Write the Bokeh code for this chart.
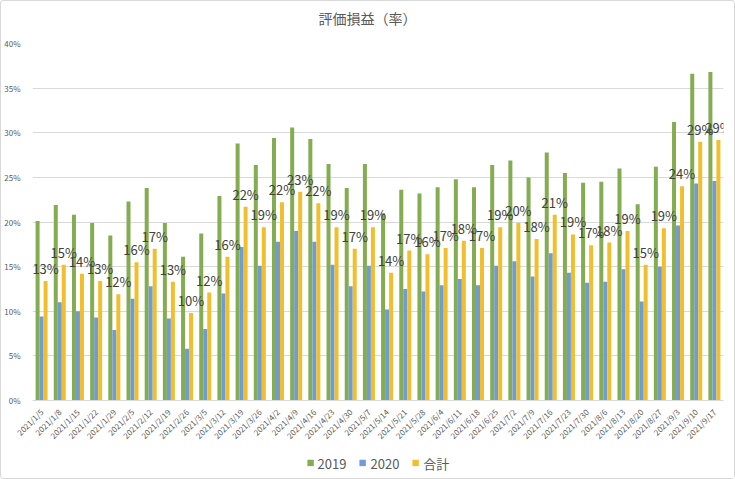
from bokeh.plotting import figure
from bokeh.layouts import column
from bokeh.models import ColumnDataSource, FactorRange, PrintfTickFormatter, Legend, LegendItem, SingleIntervalTicker, Div
from bokeh.transform import dodge
from bokeh.core.properties import value
from bokeh.embed import file_html
from bokeh.resources import INLINE
import math

dates = ["2021/1/5", "2021/1/8", "2021/1/15", "2021/1/22", "2021/1/29", "2021/2/5", "2021/2/12",
         "2021/2/19", "2021/2/26", "2021/3/5", "2021/3/12", "2021/3/19", "2021/3/26", "2021/4/2",
         "2021/4/9", "2021/4/16", "2021/4/23", "2021/4/30", "2021/5/7", "2021/5/14", "2021/5/21",
         "2021/5/28", "2021/6/4", "2021/6/11", "2021/6/18", "2021/6/25", "2021/7/2", "2021/7/9",
         "2021/7/16", "2021/7/23", "2021/7/30", "2021/8/6", "2021/8/13", "2021/8/20", "2021/8/27",
         "2021/9/3", "2021/9/10", "2021/9/17"]

# values in percent
s2019 = [20.1, 21.9, 20.8, 19.9, 18.5, 22.3, 23.8, 19.9, 16.1, 18.7, 22.9, 28.8, 26.4, 29.4,
         30.6, 29.3, 26.5, 23.8, 26.5, 21.0, 23.6, 23.2, 23.9, 24.8, 23.9, 26.4, 26.9, 25.0,
         27.8, 25.5, 24.4, 24.5, 26.0, 22.0, 26.2, 31.2, 36.6, 36.8]
s2020 = [9.4, 11.0, 10.0, 9.3, 7.9, 11.4, 12.8, 9.2, 5.8, 8.0, 12.0, 17.2, 15.1, 17.8,
         19.0, 17.8, 15.2, 12.8, 15.1, 10.2, 12.5, 12.2, 12.9, 13.6, 12.9, 15.1, 15.6, 13.9,
         16.5, 14.3, 13.2, 13.3, 14.7, 11.1, 15.0, 19.6, 24.3, 24.6]
total = [13.4, 15.2, 14.2, 13.4, 11.9, 15.5, 17.0, 13.3, 9.8, 12.1, 16.1, 21.7, 19.4, 22.2,
         23.4, 22.1, 19.4, 17.0, 19.4, 14.3, 16.8, 16.4, 17.1, 17.9, 17.1, 19.4, 19.9, 18.1,
         20.8, 18.6, 17.4, 17.7, 19.0, 15.2, 19.3, 24.0, 29.0, 29.2]
series_names = ["2019", "2020", "合計"]
title_text = "評価損益（率）"

labels = [f"{int(round(v))}%" for v in total]

src = ColumnDataSource(dict(date=dates, s2019=s2019, s2020=s2020, total=total, lab=labels))

GREEN = "#84AC50"
BLUE = "#6F9CD4"
YELLOW = "#F2BF2C"
GRID = "#D9D9D9"
TXT = "#595959"
FONT = "Noto Sans CJK JP"
COLORS = [GREEN, BLUE, YELLOW]

# title strip
title_div = Div(text=title_text, width=733, height=30, margin=0,
                styles={"text-align": "center", "font-family": FONT, "font-size": "14px",
                        "color": TXT, "line-height": "34px", "width": "733px"})

p = figure(width=733, height=416, x_range=FactorRange(factors=dates, range_padding=0),
           y_range=(0, 40), output_backend="svg", toolbar_location=None,
           min_border_left=29, min_border_right=11, min_border_top=12, min_border_bottom=46)

bw = 0.22
p.vbar(x=dodge("date", -bw, range=p.x_range), top="s2019", width=bw, source=src,
       fill_color=GREEN, line_color=None)
p.vbar(x=dodge("date", 0, range=p.x_range), top="s2020", width=bw, source=src,
       fill_color=BLUE, line_color=None)
p.vbar(x=dodge("date", bw, range=p.x_range), top="total", width=bw, source=src,
       fill_color=YELLOW, line_color=None)

p.text(x=dodge("date", bw, range=p.x_range), y="total", text="lab", source=src,
       text_align="center", text_baseline="bottom", y_offset=-3,
       text_font=value(FONT), text_font_size="13px", text_color="#404040")

p.yaxis.ticker = SingleIntervalTicker(interval=5)
p.yaxis.formatter = PrintfTickFormatter(format="%d%%")
p.yaxis.axis_line_color = None
p.yaxis.major_tick_line_color = None
p.yaxis.minor_tick_line_color = None
p.yaxis.major_label_text_font_size = "8px"
p.yaxis.major_label_text_color = TXT
p.yaxis.major_label_text_font = FONT
p.yaxis.major_label_standoff = 6

p.xaxis.axis_line_color = GRID
p.xaxis.major_tick_line_color = None
p.xaxis.minor_tick_line_color = None
p.xaxis.major_label_orientation = math.pi / 4
p.xaxis.major_label_text_font_size = "8px"
p.xaxis.major_label_text_color = TXT
p.xaxis.major_label_text_font = FONT
p.xaxis.major_label_standoff = 4

p.xgrid.grid_line_color = None
p.ygrid.grid_line_color = GRID
p.outline_line_color = None

# legend strip below the chart (legend renderers sit outside the visible range)
lf = figure(width=733, height=31, x_range=(0, 1), y_range=(0, 1), output_backend="svg",
            toolbar_location=None, min_border=0)
lf.axis.visible = False
lf.grid.visible = False
lf.outline_line_color = None
items = []
for name, col in zip(series_names, COLORS):
    rr = lf.vbar(x=[-10], top=[-10], width=0.1, fill_color=col, line_color=None)
    items.append(LegendItem(label=name, renderers=[rr]))
legend = Legend(items=items, orientation="horizontal", location="center",
                glyph_width=8, glyph_height=8, label_text_font=FONT,
                label_text_font_size="13px", label_text_color=TXT,
                spacing=12, label_standoff=4, border_line_color=None,
                background_fill_alpha=0, padding=0, margin=0)
lf.add_layout(legend, "center")

layout = column(title_div, p, lf, spacing=0)
layout.styles = {"border": "1px solid #D9D9D9", "border-radius": "3px"}

open("out.html", "w").write(file_html(layout, INLINE))
